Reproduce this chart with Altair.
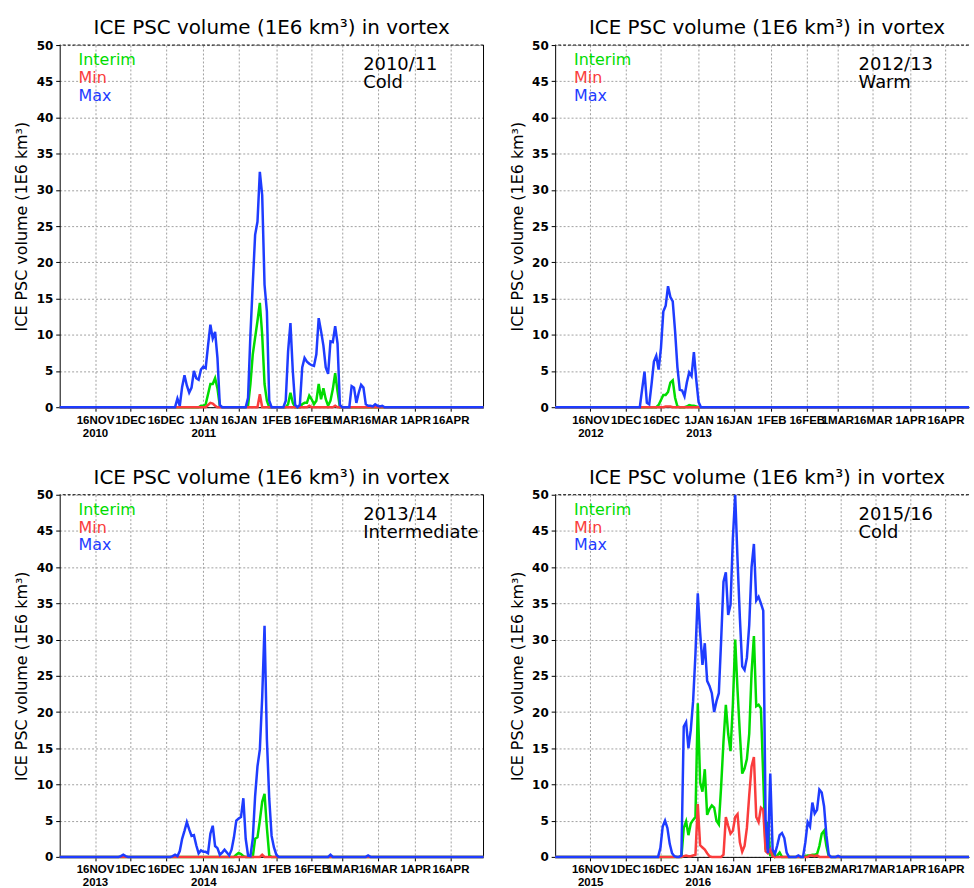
import json
import altair as alt
import pandas as pd

# ---------------- colours / names ----------------
GREEN, RED, BLUE = "#00dc00", "#fa3c3c", "#1e3cff"
SERIES_NAMES = ["Interim", "Min", "Max"]
SERIES_COLORS = [GREEN, RED, BLUE]

TITLE = "ICE PSC volume (1E6 km³) in vortex"
Y_TITLE = "ICE PSC volume (1E6 km³)"
Y_TICKS = [0, 5, 10, 15, 20, 25, 30, 35, 40, 45, 50]

# x positions are days counted from 1 November
TICK_DAYS = [15, 30, 45, 61, 76, 92, 107, 120, 135, 151, 166]
TICK_LABELS = ["16NOV", "1DEC", "16DEC", "1JAN", "16JAN", "1FEB", "16FEB",
               "1MAR", "16MAR", "1APR", "16APR"]
TICK_DAYS_LEAP = [15, 30, 45, 61, 76, 92, 107, 122, 137, 152, 167]
TICK_LABELS_LEAP = ["16NOV", "1DEC", "16DEC", "1JAN", "16JAN", "1FEB", "16FEB",
                    "2MAR", "17MAR", "1APR", "16APR"]

# ---------------- data: (first day, daily values) segments, zero elsewhere ----------------
# 2010/11
INTERIM_1011 = [(59, [0, 0.2, 0.2, 0.4, 1.8, 3.2, 3.2, 4.0, 2.6, 0.2, 0]),
                (79, [0, 0.2, 3.2, 7.3, 9.6, 11.9, 14.4, 10.0, 3.2, 0.9, 0]),
                (96, [0, 0.4, 2.0, 0.6, 0]),
                (102, [0, 0.4, 0.6, 0.6, 1.6, 1.1, 0.4, 0.9, 3.2, 1.1, 2.6, 1.1, 0.2,
                       0.9, 2.5, 4.7, 2.2, 0])]
MIN_1011 = [(62, [0, 0.3, 0.6, 0.5, 0.2, 0]), (84, [0, 1.8, 0]),
            (105, [0, 0.2, 0]), (116, [0, 0.2, 0])]
MAX_1011 = [(49, [0, 1.2, 0.2, 2.8, 4.4, 3.0, 2.0, 2.7, 5.0, 4.0, 3.8, 5.2, 5.6, 5.4,
                  8.5, 11.4, 9.5, 10.4, 6.8, 0.3, 0]),
            (79, [0, 1.3, 10.0, 17.0, 23.8, 25.6, 32.5, 29.3, 16.9, 13.2, 0.9, 0]),
            (95, [0, 0.9, 7.7, 11.6, 5.0, 0.3, 0, 0.3, 5.5, 6.8, 6.3, 6.0, 5.8, 5.7,
                  7.3, 12.3, 10.5, 8.5, 5.5, 4.6, 9.1, 9.0, 11.2, 8.8, 0.3, 0]),
            (123, [0, 2.9, 2.7, 0.6, 2.0, 3.1, 2.7, 0.4, 0.2, 0.2, 0.1, 0.4, 0.2, 0.1,
                   0.2, 0])]

# 2012/13
INTERIM_1213 = [(43, [0, 0.3, 1.0, 1.7, 1.7, 2.1, 3.4, 3.7, 1.3, 0.1, 0, 0, 0, 0.1,
                      0.3, 0.2, 0.2, 0.1, 0])]
MIN_1213 = [(46, [0, 0.1, 0.1, 0.1, 0])]
MAX_1213 = [(36, [0, 2.5, 4.9, 0.6, 0.4, 3.2, 6.3, 7.1, 5.2, 8.2, 13.2, 14.0, 16.7,
                  15.2, 14.6, 10.5, 5.5, 2.4, 2.3, 1.5, 3.4, 4.8, 4.3, 7.6, 3.8, 0.7, 0])]

# 2013/14
INTERIM_1314 = [(74, [0, 0.3, 0.55, 0.4, 0.1, 0]),
                (82, [0, 2.5, 2.7, 5.0, 7.6, 8.7, 4.0, 0.2, 0])]
MIN_1314 = [(85, [0, 0.3, 0])]
MAX_1314 = [(25, [0, 0.1, 0.3, 0.1, 0]),
            (47, [0, 0.1, 0.3, 0.1, 0.8, 2.5, 3.6, 4.8, 3.8, 2.9, 3.0, 1.6, 0.5, 0.9,
                  0.7, 0.7, 0.5, 3.2, 4.3, 1.5, 1.2, 0.3, 0.6, 1.0, 0.6, 0.2, 1.0, 2.7,
                  5.0, 5.3, 5.5, 8.1, 2.5, 0.2, 0.1, 2.5, 8.4, 12.5, 14.8, 22.0, 31.9,
                  16.2, 8.0, 2.9, 1.3, 0.3, 0]),
            (114, [0, 0.3, 0]), (130, [0, 0.2, 0])]

# 2015/16
INTERIM_1516 = [(54, [0, 4.0, 4.9, 3.0, 4.6, 5.1, 5.5, 21.2, 10.3, 9.0, 12.1, 5.8, 6.6,
                      7.1, 6.8, 5.0, 4.5, 9.8, 16.0, 21.0, 17.0, 14.6, 21.0, 30.0, 23.0,
                      17.0, 11.5, 12.2, 13.5, 17.0, 25.4, 30.5, 20.8, 21.0, 20.5, 11.0,
                      1.0, 4.8, 0.1, 0.8, 0, 0.2, 0.6, 0]),
                (106, [0, 0.1, 0.2, 0.2, 0.3, 0.3, 0.4, 1.5, 3.2, 3.6, 1.5, 0.1, 0])]
MIN_1516 = [(54, [0, 0.1, 0.2, 0.1, 0.1, 0.2, 0.3, 7.3, 1.6, 1.3, 1.0, 0.5, 0.1, 0, 0,
                  0, 0, 0, 0.3, 5.5, 4.3, 3.2, 3.6, 5.5, 5.9, 2.0, 0.7, 1.5, 4.0, 8.5,
                  12.5, 13.8, 5.5, 4.8, 6.8, 6.5, 0.8, 0.5, 1.0, 0.1, 0]),
            (108, [0, 0.2, 0.2, 0.1, 0.2, 0])]
MAX_1516 = [(43, [0, 0, 1.2, 4.2, 5.0, 4.0, 1.8, 0.5, 0.1, 0, 0, 0.2, 18.0, 18.6, 15.0,
                  17.5, 21.5, 28.0, 36.4, 31.0, 26.5, 29.5, 24.3, 23.6, 22.6, 20.0, 21.5,
                  22.6, 30.0, 38.0, 39.3, 33.4, 34.8, 44.0, 50.0, 41.0, 33.0, 26.3, 25.8,
                  27.5, 32.0, 40.0, 43.2, 35.4, 35.9, 35.0, 34.0, 5.0, 0.5, 11.5, 1.0,
                  0.4, 1.6, 3.0, 3.3, 2.6, 0.6, 0]),
            (103, [0, 0.2, 0, 0, 2.0, 4.8, 4.2, 7.5, 6.0, 6.5, 9.3, 8.9, 7.0, 3.0, 0.3, 0]),
            (120, [0, 0.15, 0])]

PLOT_H = 364
FULL_W = 426


def expand(segments, last_day):
    vals = [0.0] * (last_day + 1)
    for start, seg in segments:
        for i, v in enumerate(seg):
            if start + i <= last_day:
                vals[start + i] = v
    return pd.DataFrame({"day": list(range(last_day + 1)), "value": vals})


def build_panel(season, regime, years, interim, vmin, vmax, tick_days, tick_labels,
                last_day, width, right_border, title_dx):
    labels = list(tick_labels)
    labels[0] = labels[0] + "|" + years[0]
    labels[3] = labels[3] + "|" + years[1]
    label_expr = ("split(" + json.dumps(labels) + "[indexof(" + json.dumps(tick_days)
                  + ", datum.value)], '|')")
    xscale = alt.Scale(domain=[0, last_day], nice=False, zero=False)
    yscale = alt.Scale(domain=[0, 50], nice=False)
    xaxis = alt.Axis(values=tick_days, labelExpr=label_expr, title=None,
                     labelFont="Liberation Sans",
                     labelFontSize=11.5, labelFontWeight="bold", labelColor="black",
                     labelLineHeight=13, labelPadding=3, labelOverlap=False,
                     labelFlush=False, tickSize=4, tickColor="black",
                     domainColor="black", domainWidth=1,
                     grid=True, gridDash=[2, 2], gridColor="#a0a0a0", gridWidth=1)
    yaxis = alt.Axis(values=Y_TICKS, title=Y_TITLE, titleFont="DejaVu Sans",
                     titleFontSize=16, titleFontWeight="normal", titleColor="black",
                     titleX=-38, titleY=PLOT_H / 2, titleAngle=270,
                     titleBaseline="middle", titleAlign="center",
                     labelFont="DejaVu Sans", labelFontSize=12, labelFontWeight="bold",
                     labelColor="black", labelPadding=3, tickSize=4, tickColor="black",
                     domainColor="black", domainWidth=1,
                     grid=True, gridDash=[2, 2], gridColor="#a0a0a0", gridWidth=1)

    layers = []
    top = alt.Chart(pd.DataFrame({"value": [50]})).mark_rule(
        color="black", strokeDash=[3, 2], strokeWidth=1).encode(
        y=alt.Y("value:Q", scale=yscale, axis=yaxis))
    layers.append(top)
    if right_border:
        rb = alt.Chart(pd.DataFrame({"day": [last_day]})).mark_rule(
            color="black", strokeWidth=1).encode(
            x=alt.X("day:Q", scale=xscale, axis=xaxis))
        layers.append(rb)

    for name, color, segs in zip(SERIES_NAMES, SERIES_COLORS, [interim, vmin, vmax]):
        df = expand(segs, last_day)
        layers.append(alt.Chart(df).mark_line(color=color, strokeWidth=2.5).encode(
            x=alt.X("day:Q", scale=xscale, axis=xaxis),
            y=alt.Y("value:Q", scale=yscale, axis=yaxis)))

    for i, (name, color) in enumerate(zip(SERIES_NAMES, SERIES_COLORS)):
        layers.append(alt.Chart(pd.DataFrame({"t": [name]})).mark_text(
            align="left", baseline="alphabetic", font="DejaVu Sans", fontSize=16,
            color=color).encode(x=alt.value(19), y=alt.value(20 + 18 * i), text="t:N"))
    layers.append(alt.Chart(pd.DataFrame({"t": [season]})).mark_text(
        align="left", baseline="alphabetic", font="DejaVu Sans", fontSize=18,
        lineHeight=18, color="black").encode(
        x=alt.value(305), y=alt.value(25), text=alt.value([season, regime])))

    return alt.layer(*layers).properties(
        width=width, height=PLOT_H,
        title=alt.TitleParams(TITLE, font="DejaVu Sans", fontSize=20,
                              fontWeight="normal", color="black", anchor="middle",
                              baseline="bottom", offset=-19, dx=title_dx))


p1 = build_panel("2010/11", "Cold", ["2010", "2011"], INTERIM_1011, MIN_1011, MAX_1011,
                 TICK_DAYS, TICK_LABELS, 180, FULL_W, True, 0)
p2 = build_panel("2012/13", "Warm", ["2012", "2013"], INTERIM_1213, MIN_1213, MAX_1213,
                 TICK_DAYS, TICK_LABELS, 176, 416, False, 5)
p3 = build_panel("2013/14", "Intermediate", ["2013", "2014"], INTERIM_1314, MIN_1314,
                 MAX_1314, TICK_DAYS, TICK_LABELS, 180, FULL_W, True, 0)
p4 = build_panel("2015/16", "Cold", ["2015", "2016"], INTERIM_1516, MIN_1516, MAX_1516,
                 TICK_DAYS_LEAP, TICK_LABELS_LEAP, 177, 416, False, 5)

chart = alt.concat(p1, p2, p3, p4, columns=2, spacing={"row": 88, "column": 72},
                   bounds="flush").properties(
    padding={"left": 14, "top": 16, "right": 0, "bottom": 0},
    background="white").configure_view(stroke=None)

chart.save("out.html", embed_options={"renderer": "svg", "actions": False})
